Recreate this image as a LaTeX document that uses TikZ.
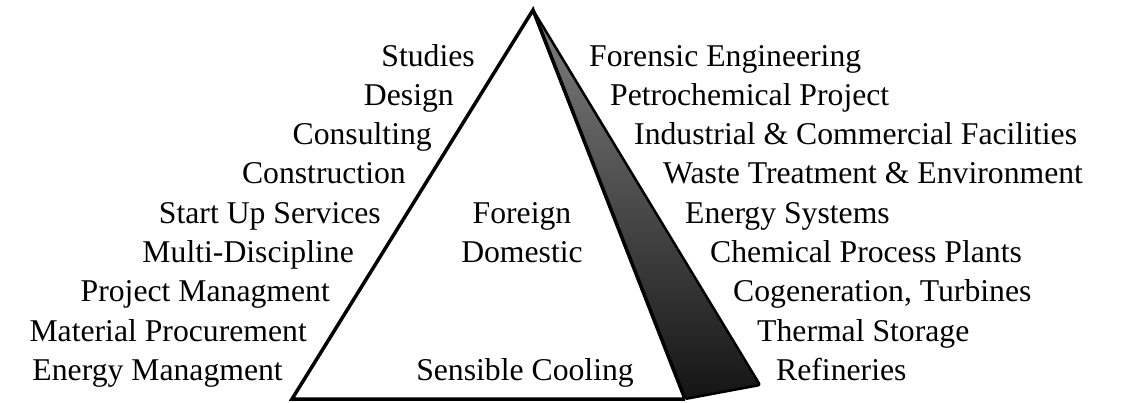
\documentclass[tikz,border=0pt]{standalone}
\usepackage{fontspec}
\setmainfont{Liberation Serif}
\begin{document}
\begin{tikzpicture}[x=1pt,y=-1pt,
  lbl/.style={font=\fontsize{31.7}{36}\selectfont, inner sep=0pt},
  lefttxt/.style={lbl, anchor=base east},
  righttxt/.style={lbl, anchor=base west},
  midtxt/.style={lbl, anchor=base},
  frontedge/.style={line width=3.5pt, line join=miter},
  sideface/.style={top color=black!50, bottom color=black!92},
  sideedge/.style={line width=2.5pt, line join=round, rounded corners=2pt}]
\useasboundingbox (0,0) rectangle (1127,402);
% pyramid corners
\coordinate (A) at (533,10);
\coordinate (L) at (292,399);
\coordinate (R) at (685,399);
\coordinate (C) at (760,385);
% shaded side face
\fill[sideface] (A) -- (C) -- (R) -- cycle;
\draw[sideedge] (A) -- (C) -- (R) -- cycle;
% front face
\draw[frontedge] (R) -- (L) -- (A) -- (R);
% left labels
\node[lefttxt] (l1) at (475,66) {Studies};
\node[lefttxt] (l2) at (454,105.3) {Design};
\node[lefttxt] (l3) at (432,144.6) {Consulting};
\node[lefttxt] (l4) at (406,183.9) {Construction};
\node[lefttxt] (l5) at (381,223.2) {Start Up Services};
\node[lefttxt] (l6) at (354,262.5) {Multi-Discipline};
\node[lefttxt] (l7) at (330,301.8) {Project Managment};
\node[lefttxt] (l8) at (307,341.1) {Material Procurement};
\node[lefttxt] (l9) at (283,380.4) {Energy Managment};
% right labels
\node[righttxt] (r1) at (589,66) {Forensic Engineering};
\node[righttxt] (r2) at (610,105.3) {Petrochemical Project};
\node[righttxt] (r3) at (634,144.6) {Industrial \& Commercial Facilities};
\node[righttxt] (r4) at (663,183.9) {Waste Treatment \& Environment};
\node[righttxt] (r5) at (685,223.2) {Energy Systems};
\node[righttxt] (r6) at (710,262.5) {Chemical Process Plants};
\node[righttxt] (r7) at (733,301.8) {Cogeneration, Turbines};
\node[righttxt] (r8) at (757,341.1) {Thermal Storage};
\node[righttxt] (r9) at (776,380.4) {Refineries};
% centre labels
\node[midtxt] (m1) at (522,223.2) {Foreign};
\node[midtxt] (m2) at (522,262.5) {Domestic};
\node[midtxt] (m3) at (525,380.4) {Sensible Cooling};
\end{tikzpicture}
\end{document}
